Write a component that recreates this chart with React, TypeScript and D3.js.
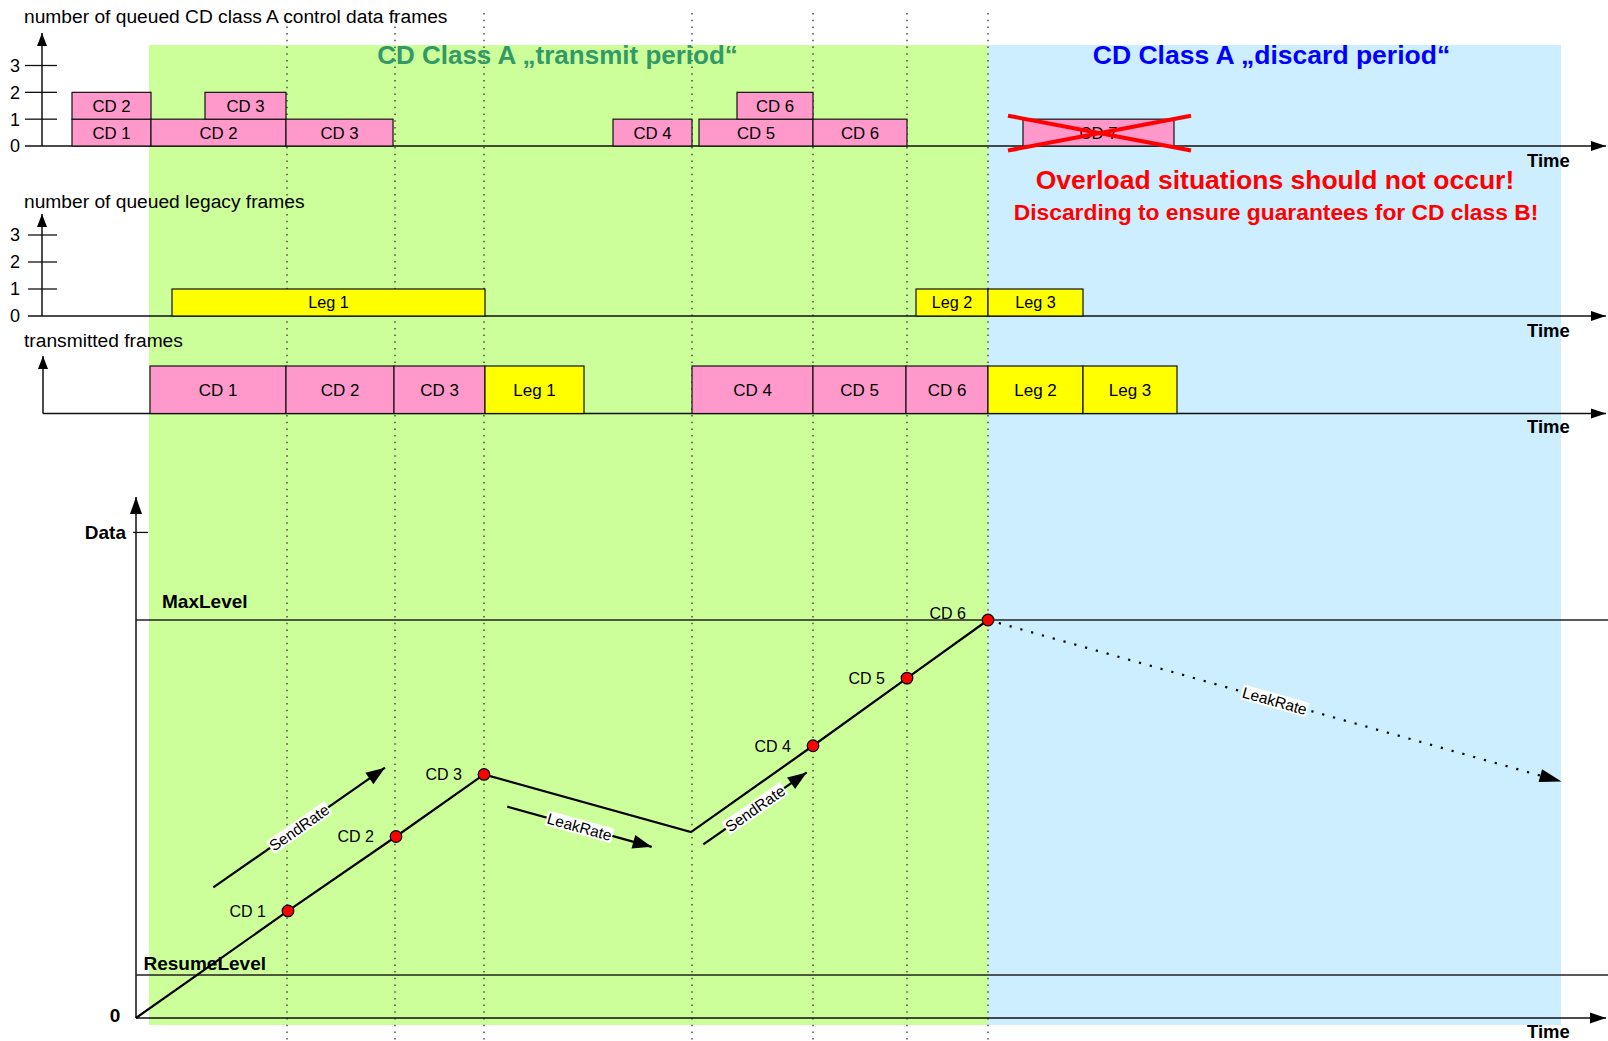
import React, { useEffect, useRef } from 'react';
import * as d3 from 'd3';

// time in arbitrary units, 0 = origin of the bucket chart
const markerTimes = [15.1, 25.9, 34.8, 55.6, 67.7, 77.1, 85.2];
const transmitPeriod = [1.3, 85.2];
const discardPeriod = [85.2, 142.5];

// queued CD class A control data frames
const cdQueueLabels = ['CD 1', 'CD 2', 'CD 2', 'CD 3', 'CD 3', 'CD 4', 'CD 5', 'CD 6', 'CD 6', 'CD 7'];
const cdQueueStart = [-6.4, -6.4, 1.5, 6.9, 15.0, 47.7, 56.3, 60.1, 67.7, 88.7];
const cdQueueEnd = [1.5, 1.5, 15.0, 15.0, 25.7, 55.6, 67.7, 67.7, 77.1, 103.8];
const cdQueueLevel = [0, 1, 0, 1, 0, 0, 0, 1, 0, 0];
const cdDiscarded = [false, false, false, false, false, false, false, false, false, true];

// queued legacy frames
const legacyLabels = ['Leg 1', 'Leg 2', 'Leg 3'];
const legacyStart = [3.6, 78.0, 85.2];
const legacyEnd = [34.9, 85.2, 94.7];

// transmitted frames
const txLabels = ['CD 1', 'CD 2', 'CD 3', 'Leg 1', 'CD 4', 'CD 5', 'CD 6', 'Leg 2', 'Leg 3'];
const txStart = [1.4, 15.0, 25.8, 34.9, 55.6, 67.7, 77.0, 85.2, 94.7];
const txEnd = [15.0, 25.8, 34.9, 44.8, 67.7, 77.0, 85.2, 94.7, 104.1];

const queueTicks = [0, 1, 2, 3];

// bucket level, MaxLevel = 100
const bucketTimes = [0, 15.2, 26.0, 34.8, 55.5, 67.7, 77.1, 85.2];
const bucketLevels = [0, 26.9, 45.6, 61.2, 46.7, 68.4, 85.4, 100];
const bucketLabels = ['', 'CD 1', 'CD 2', 'CD 3', '', 'CD 4', 'CD 5', 'CD 6'];
const maxLevel = 100;
const resumeLevel = 10.8;
const dataTickLevel = 122;
const leakEnd = [142.55, 59.4];

const rateNames = ['SendRate', 'LeakRate', 'SendRate'];
const rateFrom = [[7.73, 32.8], [37.13, 53.1], [56.73, 43.6]];
const rateTo = [[24.9, 62.9], [51.57, 43.0], [67.07, 61.7]];

const W = 1608;
const H = 1041;
const FONT = "'Liberation Sans', Arial, sans-serif";
const PINK = '#ff99cc';
const YELLOW = '#ffff00';

const head = (x1: number, y1: number, x2: number, y2: number, len: number, w: number) => {
  const a = Math.atan2(y2 - y1, x2 - x1);
  const bx = x2 - len * Math.cos(a);
  const by = y2 - len * Math.sin(a);
  const nx = (-Math.sin(a) * w) / 2;
  const ny = (Math.cos(a) * w) / 2;
  return `M${x2},${y2}L${bx + nx},${by + ny}L${bx - nx},${by - ny}Z`;
};

const App = () => {
  const ref = useRef<SVGSVGElement>(null);

  useEffect(() => {
    document.body.style.margin = '0';
    document.body.style.overflow = 'hidden';

    const svg = d3.select(ref.current).attr('width', W).attr('height', H);
    svg.selectAll('*').remove();
    svg.append('rect').attr('width', W).attr('height', H).attr('fill', '#fff');

    const x = d3.scaleLinear().domain([0, 142.5]).range([136, 1561]);
    const yQueue = d3.scaleLinear().domain([0, 3]).range([146, 65.5]);
    const yLegacy = d3.scaleLinear().domain([0, 3]).range([316, 235]);
    const yTx = d3.scaleLinear().domain([0, 1]).range([413.5, 366]);
    const yB = d3.scaleLinear().domain([0, 100]).range([1018, 620]);

    const bgTop = 45;
    const bgBottom = 1025;

    // period backgrounds
    svg.append('rect')
      .attr('x', x(transmitPeriod[0])).attr('y', bgTop)
      .attr('width', x(transmitPeriod[1]) - x(transmitPeriod[0])).attr('height', bgBottom - bgTop)
      .attr('fill', '#ccff99');
    svg.append('rect')
      .attr('x', x(discardPeriod[0])).attr('y', bgTop)
      .attr('width', x(discardPeriod[1]) - x(discardPeriod[0])).attr('height', bgBottom - bgTop)
      .attr('fill', '#cceeff');

    // event markers
    svg.selectAll('line.marker')
      .data(markerTimes)
      .enter()
      .append('line')
      .attr('x1', d => x(d)).attr('x2', d => x(d))
      .attr('y1', 13).attr('y2', H)
      .attr('stroke', '#333').attr('stroke-width', 1.3)
      .attr('stroke-dasharray', '1.5 5.2');

    const axisColor = '#111';
    const arrowAxis = (x1: number, y1: number, x2: number, y2: number, len = 14, w = 10) => {
      svg.append('line')
        .attr('x1', x1).attr('y1', y1).attr('x2', x2).attr('y2', y2)
        .attr('stroke', axisColor).attr('stroke-width', 1.5);
      svg.append('path').attr('d', head(x1, y1, x2, y2, len, w)).attr('fill', '#000');
    };

    const timeLabel = (y: number) => {
      svg.append('text')
        .attr('x', 1527).attr('y', y)
        .attr('font-family', FONT).attr('font-size', 18.5).attr('font-weight', 'bold')
        .text('Time');
    };

    const title = (y: number, t: string) => {
      svg.append('text')
        .attr('x', 24).attr('y', y)
        .attr('font-family', FONT).attr('font-size', 19.2)
        .text(t);
    };

    const tickAxis = (y: d3.ScaleLinear<number, number>, ax: number, left: number, top: number) => {
      queueTicks.forEach(t => {
        if (t > 0) {
          svg.append('line')
            .attr('x1', left).attr('x2', 57).attr('y1', y(t)).attr('y2', y(t))
            .attr('stroke', axisColor).attr('stroke-width', 1.3);
        }
        svg.append('text')
          .attr('x', 15).attr('y', y(t))
          .attr('dy', '0.36em').attr('text-anchor', 'middle')
          .attr('font-family', FONT).attr('font-size', 18)
          .text(t);
      });
      arrowAxis(ax, y(0), ax, top, 13, 10);
      arrowAxis(left, y(0), 1606, y(0), 15, 10);
    };

    // queue panel
    title(23, 'number of queued CD class A control data frames');
    tickAxis(yQueue, 42, 25, 33);
    timeLabel(167);

    // legacy panel
    title(208, 'number of queued legacy frames');
    tickAxis(yLegacy, 42, 28, 214);
    timeLabel(337);

    // transmitted panel
    title(347, 'transmitted frames');
    arrowAxis(43, yTx(0), 43, 356, 13, 10);
    arrowAxis(43, yTx(0), 1606, yTx(0), 15, 10);
    timeLabel(433);

    const boxes = (
      labels: string[], start: number[], end: number[], y0: (i: number) => number,
      y1: (i: number) => number, fill: (i: number) => string, size: number
    ) => {
      const g = svg.append('g');
      labels.forEach((lab, i) => {
        g.append('rect')
          .attr('x', x(start[i])).attr('y', y1(i))
          .attr('width', x(end[i]) - x(start[i])).attr('height', y0(i) - y1(i))
          .attr('fill', fill(i)).attr('stroke', '#111').attr('stroke-width', 1.2);
        g.append('text')
          .attr('x', (x(start[i]) + x(end[i])) / 2).attr('y', (y0(i) + y1(i)) / 2)
          .attr('dy', '0.36em').attr('text-anchor', 'middle')
          .attr('font-family', FONT).attr('font-size', size)
          .text(lab);
      });
      return g;
    };

    boxes(cdQueueLabels, cdQueueStart, cdQueueEnd,
      i => yQueue(cdQueueLevel[i]), i => yQueue(cdQueueLevel[i] + 1), () => PINK, 16.8);
    boxes(legacyLabels, legacyStart, legacyEnd,
      () => yLegacy(0), () => yLegacy(1), () => YELLOW, 16.2);
    boxes(txLabels, txStart, txEnd,
      () => yTx(0), () => yTx(1),
      i => (txLabels[i].startsWith('Leg') ? YELLOW : PINK), 17);

    // discarded frames crossed out
    cdDiscarded.forEach((d, i) => {
      if (!d) return;
      const xa = x(cdQueueStart[i]) - 15;
      const xb = x(cdQueueEnd[i]) + 17;
      const ya = yQueue(cdQueueLevel[i] + 1) - 3.5;
      const yb = yQueue(cdQueueLevel[i]) + 4.5;
      svg.append('line').attr('x1', xa).attr('y1', ya).attr('x2', xb).attr('y2', yb)
        .attr('stroke', '#ff0000').attr('stroke-width', 4);
      svg.append('line').attr('x1', xa).attr('y1', yb).attr('x2', xb).attr('y2', ya)
        .attr('stroke', '#ff0000').attr('stroke-width', 4);
    });

    // period headings
    svg.append('text')
      .attr('x', 557.5).attr('y', 64).attr('text-anchor', 'middle')
      .attr('font-family', FONT).attr('font-size', 26).attr('font-weight', 'bold')
      .attr('fill', '#339966')
      .text('CD Class A \u201Etransmit period\u201C');
    svg.append('text')
      .attr('x', 1271.5).attr('y', 64).attr('text-anchor', 'middle')
      .attr('font-family', FONT).attr('font-size', 26.5).attr('font-weight', 'bold')
      .attr('fill', '#0000ff')
      .text('CD Class A \u201Ediscard period\u201C');

    svg.append('text')
      .attr('x', 1275).attr('y', 188.5).attr('text-anchor', 'middle')
      .attr('font-family', FONT).attr('font-size', 26.5).attr('font-weight', 'bold')
      .attr('fill', '#ff0000')
      .text('Overload situations should not occur!');
    svg.append('text')
      .attr('x', 1276).attr('y', 220).attr('text-anchor', 'middle')
      .attr('font-family', FONT).attr('font-size', 22.8).attr('font-weight', 'bold')
      .attr('fill', '#ff0000')
      .text('Discarding to ensure guarantees for CD class B!');

    // bucket chart
    const x0 = x(0);
    arrowAxis(x0, yB(0), x0, 497, 17, 12);
    arrowAxis(x0, yB(0), 1606, yB(0), 16, 11);
    timeLabel(1038);

    svg.append('line')
      .attr('x1', 133).attr('x2', 148).attr('y1', yB(dataTickLevel)).attr('y2', yB(dataTickLevel))
      .attr('stroke', axisColor).attr('stroke-width', 1.3);
    svg.append('text')
      .attr('x', 126).attr('y', yB(dataTickLevel)).attr('dy', '0.36em').attr('text-anchor', 'end')
      .attr('font-family', FONT).attr('font-size', 19).attr('font-weight', 'bold')
      .text('Data');
    svg.append('text')
      .attr('x', 115).attr('y', yB(0)).attr('dy', '0.2em').attr('text-anchor', 'middle')
      .attr('font-family', FONT).attr('font-size', 19).attr('font-weight', 'bold')
      .text('0');

    const levelLines: [number, string, number, number][] = [
      [maxLevel, 'MaxLevel', 162, 12],
      [resumeLevel, 'ResumeLevel', 143.5, 5.5],
    ];
    levelLines.forEach(([lv, name, lx, off]) => {
      svg.append('line')
        .attr('x1', x0).attr('x2', W).attr('y1', yB(lv)).attr('y2', yB(lv))
        .attr('stroke', '#222').attr('stroke-width', 1.6);
      svg.append('text')
        .attr('x', lx).attr('y', yB(lv) - off)
        .attr('font-family', FONT).attr('font-size', 19).attr('font-weight', 'bold')
        .text(name);
    });

    const pts = bucketTimes.map((t, i) => [x(t), yB(bucketLevels[i])] as [number, number]);
    svg.append('path')
      .attr('d', d3.line()(pts))
      .attr('fill', 'none').attr('stroke', '#000').attr('stroke-width', 2.2);

    // leak after the last frame, dotted
    const last = pts[pts.length - 1];
    const lx2 = x(leakEnd[0]);
    const ly2 = yB(leakEnd[1]);
    const la = Math.atan2(ly2 - last[1], lx2 - last[0]);
    svg.append('line')
      .attr('x1', last[0]).attr('y1', last[1])
      .attr('x2', lx2 - 20 * Math.cos(la)).attr('y2', ly2 - 20 * Math.sin(la))
      .attr('stroke', '#000').attr('stroke-width', 2.2).attr('stroke-dasharray', '2.2 9');
    svg.append('path').attr('d', head(last[0], last[1], lx2, ly2, 22, 13)).attr('fill', '#000');

    const rateLabel = (x1: number, y1: number, x2: number, y2: number, name: string) => {
      const ang = (Math.atan2(y2 - y1, x2 - x1) * 180) / Math.PI;
      const g = svg.append('g')
        .attr('transform', `translate(${(x1 + x2) / 2},${(y1 + y2) / 2}) rotate(${ang})`);
      const r = g.append('rect').attr('fill', '#fff');
      const t = g.append('text')
        .attr('text-anchor', 'middle').attr('dy', '0.36em')
        .attr('font-family', FONT).attr('font-size', 15.5)
        .text(name);
      const b = (t.node() as SVGTextElement).getBBox();
      r.attr('x', b.x - 1).attr('y', b.y + 1).attr('width', b.width + 2).attr('height', b.height - 2);
    };

    rateNames.forEach((name, i) => {
      const x1 = x(rateFrom[i][0]);
      const y1 = yB(rateFrom[i][1]);
      const x2 = x(rateTo[i][0]);
      const y2 = yB(rateTo[i][1]);
      svg.append('line').attr('x1', x1).attr('y1', y1).attr('x2', x2).attr('y2', y2)
        .attr('stroke', '#000').attr('stroke-width', 2.2);
      svg.append('path').attr('d', head(x1, y1, x2, y2, 19, 14)).attr('fill', '#000');
      rateLabel(x1, y1, x2, y2, name);
    });
    rateLabel(last[0], last[1], lx2, ly2, 'LeakRate');

    pts.forEach((p, i) => {
      if (!bucketLabels[i]) return;
      svg.append('circle')
        .attr('cx', p[0]).attr('cy', p[1]).attr('r', 5.8)
        .attr('fill', '#ff0000').attr('stroke', '#000').attr('stroke-width', 1.2);
      svg.append('text')
        .attr('x', p[0] - 22).attr('y', p[1] - (bucketLevels[i] >= maxLevel ? 7 : 0))
        .attr('dy', '0.36em').attr('text-anchor', 'end')
        .attr('font-family', FONT).attr('font-size', 16)
        .text(bucketLabels[i]);
    });
  }, []);

  return <svg ref={ref} style={{ display: 'block' }}></svg>;
};

export default App;
